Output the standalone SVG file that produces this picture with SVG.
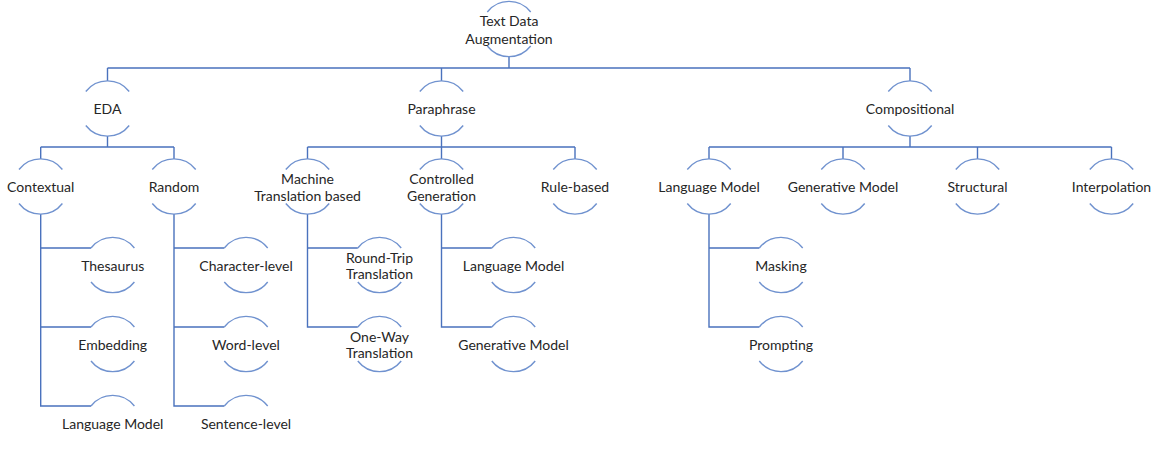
<svg xmlns="http://www.w3.org/2000/svg" width="1161" height="454" viewBox="0 0 1161 454">
<style>
.bg{fill:#ffffff}
.arc{fill:none;stroke:#7092cf;stroke-width:1.4}
.ln{fill:none;stroke:#4a72bd;stroke-width:1.4}
text{font-family:Lato,"Liberation Sans",sans-serif;font-size:14px;fill:#262626;text-anchor:middle;dominant-baseline:central}
</style>
<defs>
<path id="top" class="arc" d="M-21.7,-17 A27.5,27.5 0 0 1 21.7,-17"/>
<path id="bot" class="arc" d="M-21.7,17 A27.5,27.5 0 0 0 21.7,17"/>
</defs>
<rect class="bg" width="1161" height="454"/>
<g id="connectors">
<path class="ln" d="M509,56.5V68M107.5,68H910M107.5,68V81M441.5,68V81M910,68V81"/>
<path class="ln" d="M107.5,136V147M40.7,147H174M40.7,147V159M174,147V159"/>
<path class="ln" d="M441.5,136V147M307.5,147H575M307.5,147V159M441.5,147V159M575,147V159"/>
<path class="ln" d="M910,136V147M709,147H1111.5M709,147V159M843,147V159M977.5,147V159M1111.5,147V159"/>
<path class="ln" d="M40.7,214V406H91M40.7,248H91M40.7,327H91"/>
<path class="ln" d="M174,214V406H224.3M174,248H224.3M174,327H224.3"/>
<path class="ln" d="M307.5,214V327H357.8M307.5,248H357.8"/>
<path class="ln" d="M441.5,214V327H491.8M441.5,248H491.8"/>
<path class="ln" d="M709,214V327H759.3M709,248H759.3"/>
</g>
<g id="n-root" transform="translate(509,29)"><use href="#top"/><use href="#bot"/><text y="-9">Text Data</text><text y="9">Augmentation</text></g>
<g id="n-eda" transform="translate(107.5,108.5)"><use href="#top"/><use href="#bot"/><text>EDA</text></g>
<g id="n-paraphrase" transform="translate(441.5,108.5)"><use href="#top"/><use href="#bot"/><text>Paraphrase</text></g>
<g id="n-compositional" transform="translate(910,108.5)"><use href="#top"/><use href="#bot"/><text>Compositional</text></g>
<g id="n-contextual" transform="translate(40.7,186.5)"><use href="#top"/><use href="#bot"/><text>Contextual</text></g>
<g id="n-random" transform="translate(174,186.5)"><use href="#top"/><use href="#bot"/><text>Random</text></g>
<g id="n-mt" transform="translate(307.5,186.5)"><use href="#top"/><use href="#bot"/><text y="-8.5">Machine</text><text y="8.5">Translation based</text></g>
<g id="n-cg" transform="translate(441.5,186.5)"><use href="#top"/><use href="#bot"/><text y="-8.5">Controlled</text><text y="8.5">Generation</text></g>
<g id="n-rule" transform="translate(575,186.5)"><use href="#top"/><use href="#bot"/><text>Rule-based</text></g>
<g id="n-lm" transform="translate(709,186.5)"><use href="#top"/><use href="#bot"/><text>Language Model</text></g>
<g id="n-gm" transform="translate(843,186.5)"><use href="#top"/><use href="#bot"/><text>Generative Model</text></g>
<g id="n-structural" transform="translate(977.5,186.5)"><use href="#top"/><use href="#bot"/><text>Structural</text></g>
<g id="n-interp" transform="translate(1111.5,186.5)"><use href="#top"/><use href="#bot"/><text>Interpolation</text></g>
<g id="n-thesaurus" transform="translate(112.7,265)"><use href="#top"/><use href="#bot"/><text>Thesaurus</text></g>
<g id="n-embedding" transform="translate(112.7,344)"><use href="#top"/><use href="#bot"/><text>Embedding</text></g>
<g id="n-ctx-lm" transform="translate(112.7,423)"><use href="#top"/><text>Language Model</text></g>
<g id="n-char" transform="translate(246,265)"><use href="#top"/><use href="#bot"/><text>Character-level</text></g>
<g id="n-word" transform="translate(246,344)"><use href="#top"/><use href="#bot"/><text>Word-level</text></g>
<g id="n-sent" transform="translate(246,423)"><use href="#top"/><text>Sentence-level</text></g>
<g id="n-rt" transform="translate(379.5,265)"><use href="#top"/><use href="#bot"/><text y="-8">Round-Trip</text><text y="8">Translation</text></g>
<g id="n-ow" transform="translate(379.5,344)"><use href="#top"/><use href="#bot"/><text y="-8">One-Way</text><text y="8">Translation</text></g>
<g id="n-cg-lm" transform="translate(513.5,265)"><use href="#top"/><use href="#bot"/><text>Language Model</text></g>
<g id="n-cg-gm" transform="translate(513.5,344)"><use href="#top"/><use href="#bot"/><text>Generative Model</text></g>
<g id="n-masking" transform="translate(781,265)"><use href="#top"/><use href="#bot"/><text>Masking</text></g>
<g id="n-prompting" transform="translate(781,344)"><use href="#top"/><use href="#bot"/><text>Prompting</text></g>
</svg>
